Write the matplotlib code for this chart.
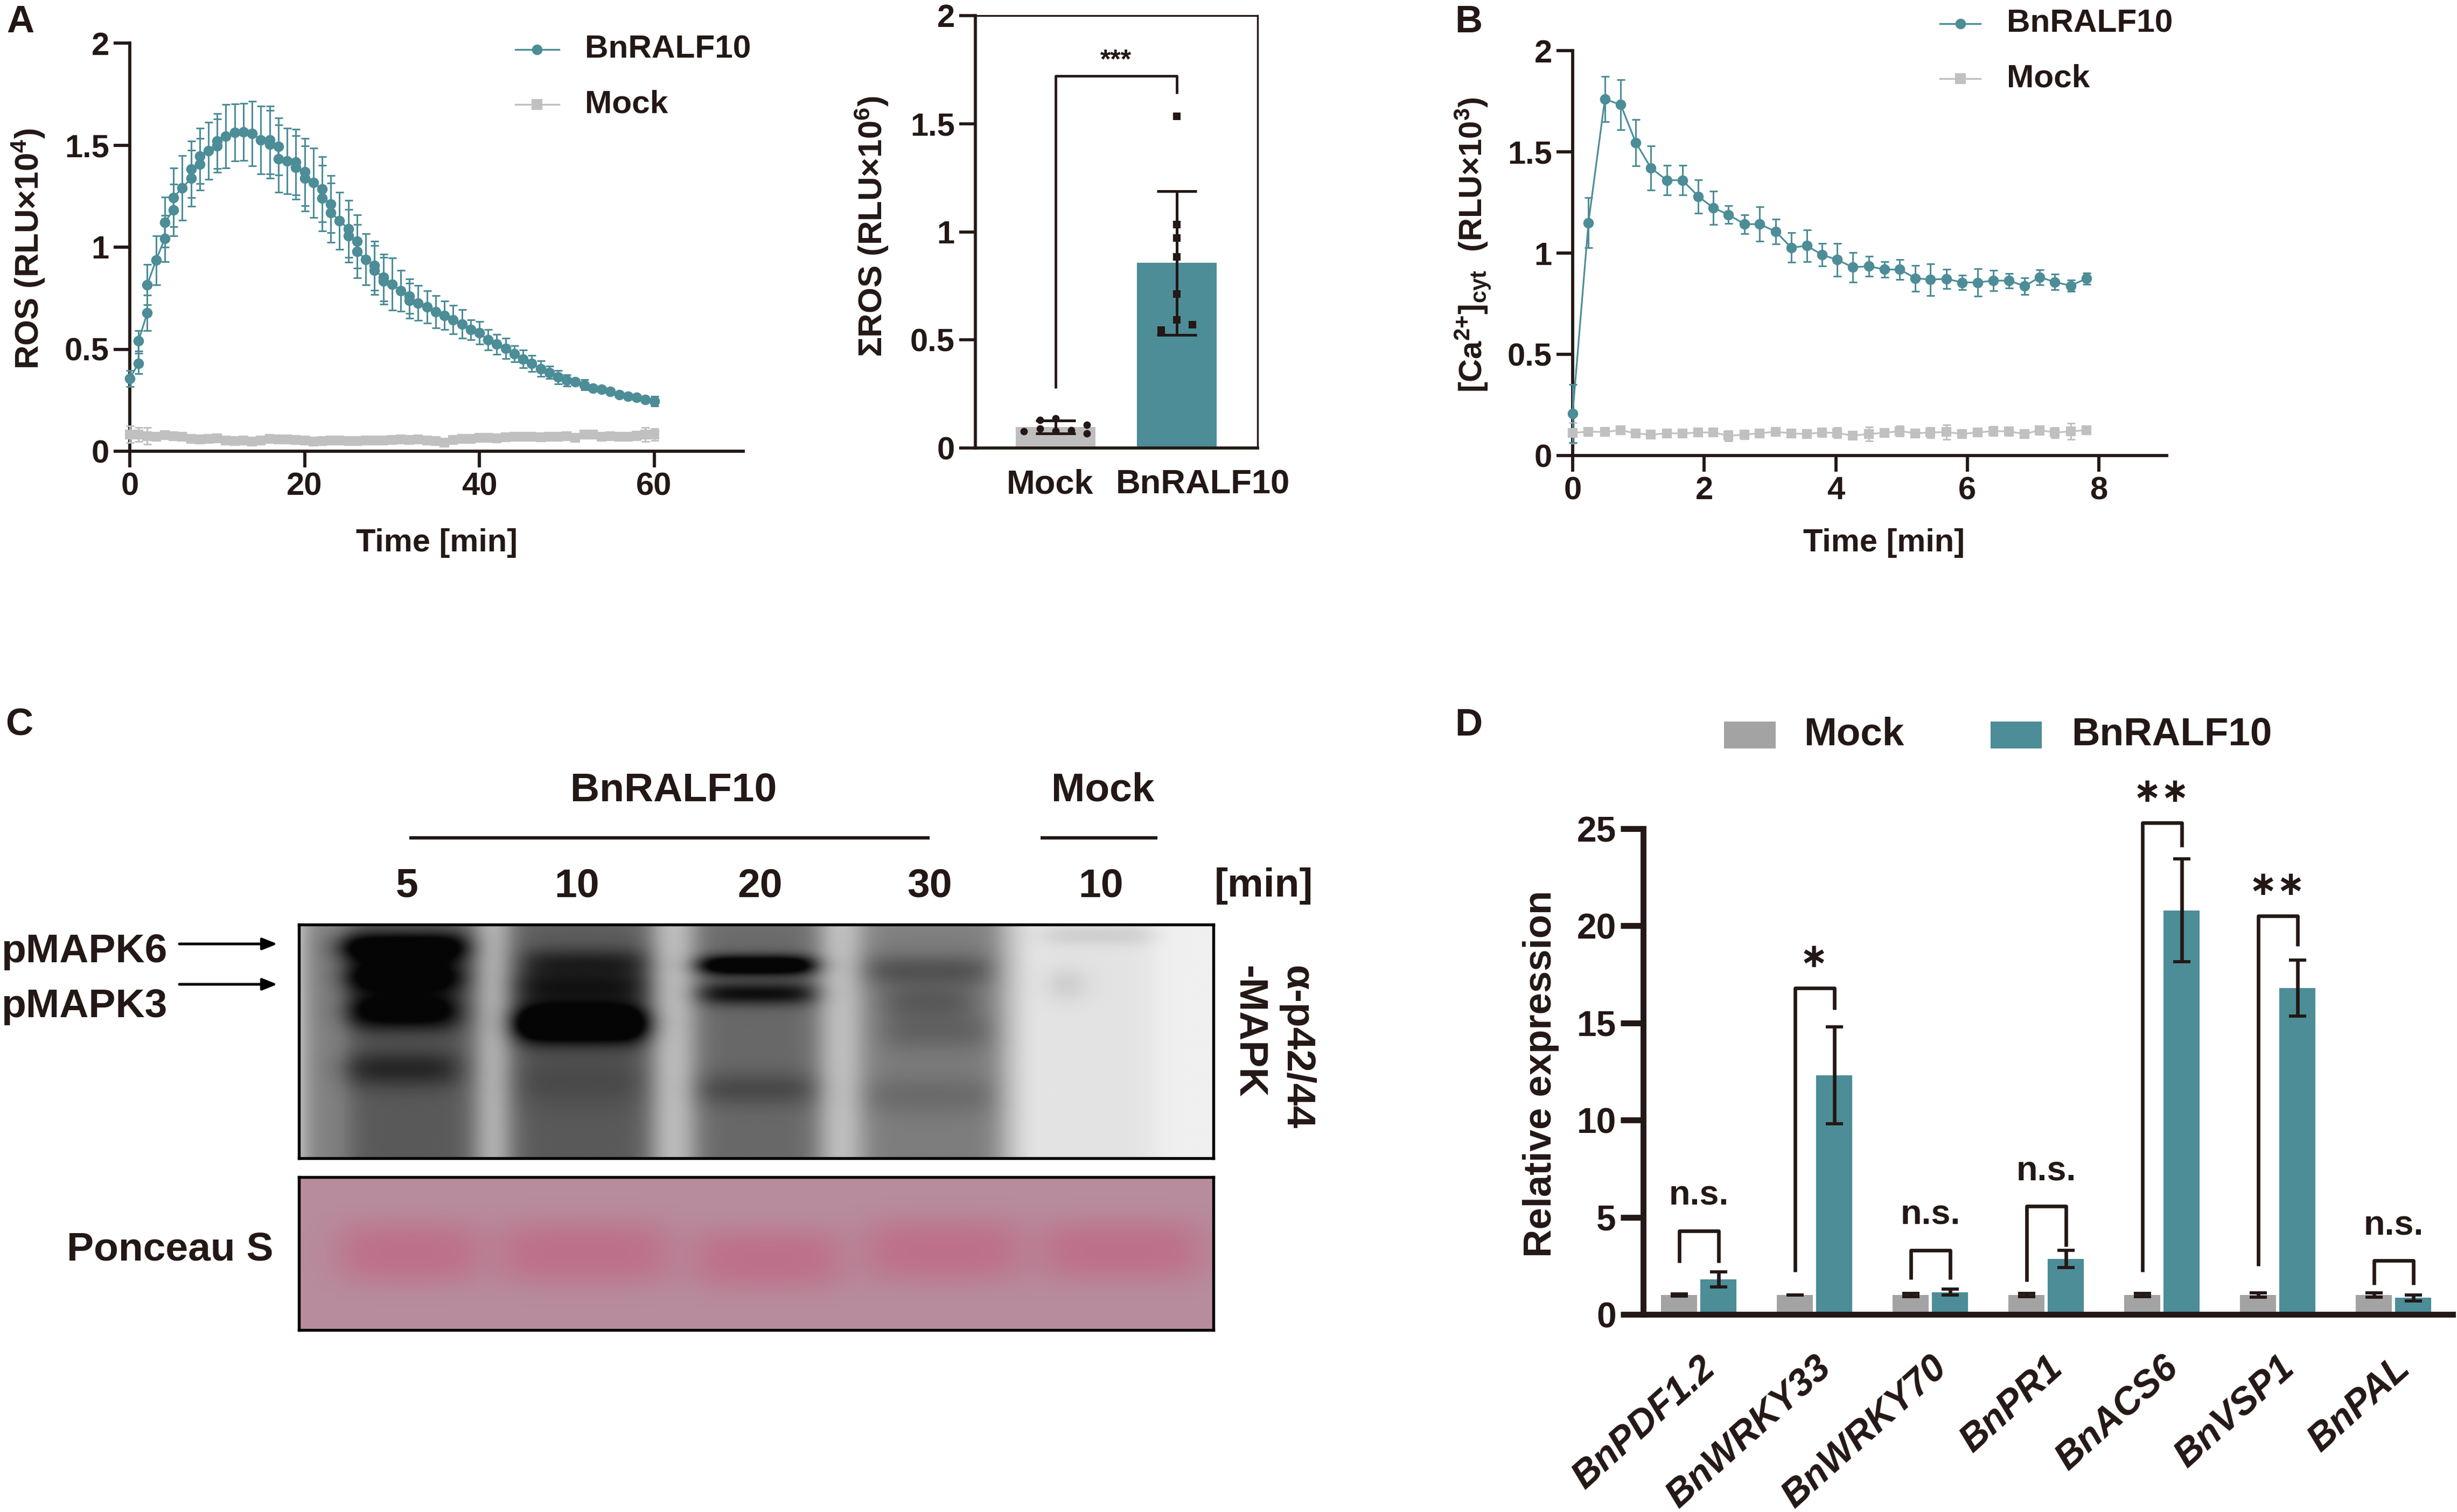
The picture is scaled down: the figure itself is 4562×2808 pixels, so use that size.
#!/usr/bin/env python
""" BnRALF10 figure: ROS burst, calcium, MAPK blot and qPCR panels """

import numpy as np
import matplotlib
matplotlib.use('Agg')
import matplotlib.pyplot as plt

plt.rcParams['font.family'] = ['Liberation Sans', 'DejaVu Sans']
plt.rcParams['font.weight'] = 'bold'
plt.rcParams['mathtext.default'] = 'regular'

INK = '#231815'
TEAL = '#4C8D97'
LGREY = '#C0C0C0'
BARGREY = '#A3A3A3'

# panel A, time course
ros_t = [0, 1, 1, 2, 2, 3, 4, 4, 5, 5, 6, 7, 7, 8, 8, 9, 10, 10, 11, 12, 13, 14, 15, 16, 16, 17, 17, 18,
         19, 19, 20, 20, 21, 22, 22, 23, 23, 24, 25, 25, 26, 26, 27, 28, 28, 29, 29, 30, 31, 32, 32, 33,
         34, 35, 36, 37, 38, 39, 40, 41, 42, 43, 44, 45, 46, 47, 48, 49, 50, 51, 52, 53, 54, 55, 56, 57,
         58, 59, 60]
ros_mean = [.357, .431, .542, .678, .816, .936, 1.042, 1.122, 1.182, 1.244, 1.29, 1.337, 1.382, 1.406,
            1.447, 1.473, 1.497, 1.519, 1.544, 1.562, 1.565, 1.557, 1.525, 1.504, 1.525, 1.493, 1.433,
            1.422, 1.417, 1.39, 1.369, 1.337, 1.316, 1.284, 1.24, 1.212, 1.17, 1.13, 1.09, 1.055, 1.028,
            .98, .94, .91, .887, .852, .834, .819, .786, .76, .738, .726, .707, .683, .665, .644, .624,
            .595, .58, .545, .524, .503, .477, .452, .43, .404, .386, .364, .347, .34, .325, .31, .303,
            .292, .276, .269, .265, .254, .245]
ros_sd = [.04, .05, .05, .088, .099, .12, .113, .123, .126, .143, .158, .137, .139, .127, .135, .14, .13,
          .135, .155, .14, .14, .158, .165, .165, .165, .14, .165, .16, .16, .155, .165, .16, .17, .16,
          .16, .14, .145, .14, .14, .13, .13, .13, .125, .12, .12, .115, .115, .127, .10, .085, .085,
          .086, .08, .08, .07, .07, .07, .05, .056, .05, .048, .05, .04, .044, .04, .038, .03, .033,
          .028, .01, .025, .01, .01, .01, .012, .01, .01, .01, .023]
ros_mock = [.083, .082, .075, .072, .078, .074, .070, .060, .059, .060,
            .063, .054, .051, .052, .048, .052, .060, .059, .058, .055,
            .054, .048, .050, .052, .053, .049, .050, .053, .054, .052,
            .056, .057, .056, .058, .054, .050, .042, .056, .060, .062,
            .066, .066, .064, .068, .070, .070, .072, .068, .072, .070,
            .074, .066, .082, .082, .072, .074, .072, .072, .076, .082, .082]
ros_mock_sd = [.04, .035, .04, .02, .012, .015, .012, .012, .012, .012,
               .01, .012, .012, .012, .015, .012, .012, .012, .015, .015,
               .012, .015, .012, .012, .012, .012, .012, .012, .012, .012,
               .012, .012, .012, .012, .012, .012, .012, .012, .012, .012,
               .012, .012, .012, .012, .012, .012, .012, .012, .012, .012,
               .012, .012, .012, .012, .012, .012, .012, .012, .02, .035, .03]

# panel A, sum bars
sum_mean = [.097, .856]
sum_sd = [.029, .333]
sum_mock_dx = [-.26, -.13, -.13, 0, 0, .13, .26, .26]
sum_mock_pts = [.078, .129, .089, .138, .079, .083, .106, .067]
sum_bn_dx = [0, 0, 0, 0, 0, 0, -.13, .13]
sum_bn_pts = [1.535, 1.033, .971, .885, .713, .594, .546, .57]

# panel B
ca_t = [0, .24, .49, .73, .96, 1.19, 1.43, 1.67, 1.91, 2.14, 2.37, 2.61, 2.84, 3.09, 3.32, 3.56, 3.79,
        4.02, 4.26, 4.5, 4.74, 4.97, 5.21, 5.44, 5.68, 5.92, 6.16, 6.39, 6.63, 6.87, 7.1, 7.33, 7.57, 7.81]
ca_mean = [.207, 1.15, 1.76, 1.733, 1.546, 1.42, 1.36, 1.36, 1.28, 1.223, 1.19, 1.143, 1.143, 1.106,
           1.027, 1.036, .992, .967, .93, .935, .919, .919, .876, .869, .873, .855, .855, .864, .864,
           .837, .881, .857, .839, .874]
ca_sd = [.144, .123, .112, .123, .114, .109, .073, .073, .082, .082, .045, .046, .085, .062, .073, .078,
         .057, .082, .073, .05, .039, .048, .064, .078, .048, .037, .068, .05, .036, .041, .037, .039,
         .028, .028]
ca_mock = [.112, .118, .116, .126, .109, .103, .110, .109, .114, .114, .098, .103, .110, .118, .109, .107,
           .114, .112, .098, .107, .112, .121, .110, .114, .116, .107, .114, .121, .119, .107, .125, .114,
           .119, .126]
ca_mock_sd = [.05, .01, .01, .012, .012, .012, .01, .012, .012, .015, .025, .02, .012, .01, .012, .012,
              .02, .025, .015, .035, .02, .025, .012, .025, .035, .02, .018, .022, .02, .012, .022, .025,
              .04, .02]

# panel D
genes = ['BnPDF1.2', 'BnWRKY33', 'BnWRKY70', 'BnPR1', 'BnACS6', 'BnVSP1', 'BnPAL']
qpcr_mock = [1, 1, 1, 1, 1, 1, 1]
qpcr_mock_err = [.06, 0, .08, .08, .08, .1, .1]
qpcr_bn = [1.8, 12.3, 1.15, 2.85, 20.8, 16.8, .85]
qpcr_bn_err = [.4, 2.5, .15, .45, 2.65, 1.45, .15]
sig_top = [4.3, 16.8, 3.3, 5.57, 25.3, 20.5, 2.77]
sig_left = [2.65, 2.2, 1.8, 1.7, 2.2, 2.5, 1.52]
sig_right = [2.65, 15.7, 1.8, 3.5, 24.07, 18.95, 1.52]
sig_text = ['n.s.', '*', 'n.s.', 'n.s.', '**', '**', 'n.s.']

# panel C, blot texture in crop coordinates: x0, x1, y, sigma, strength
blot_bands = [(395, 540, 600, 26, .52), (400, 535, 672, 28, .44), (405, 530, 755, 32, .44),
              (400, 530, 895, 32, .2), (610, 750, 635, 24, .2), (600, 750, 695, 30, .26),
              (600, 750, 785, 32, .72), (595, 750, 925, 44, .06), (815, 945, 643, 17, .62),
              (815, 945, 712, 20, .36), (810, 950, 945, 30, .12), (1005, 1150, 655, 28, .16),
              (1030, 1130, 730, 32, .13), (1030, 1150, 805, 34, .1), (1005, 1155, 960, 34, .07),
              (1225, 1255, 690, 30, .12), (1215, 1340, 570, 18, .08)]
blot_smears = [(348, 395, .3), (400, 555, .44), (590, 760, .44), (805, 955, .38), (1000, 1165, .30),
               (1205, 1340, .05), (348, 1190, .15)]
pon_bands = [(395, 555, 1340, 80), (585, 775, 1340, 82), (810, 975, 1355, 78), (1010, 1185, 1335, 82),
             (1215, 1395, 1335, 78)]


W, H = 4562, 2808


def px_axes(fig, l, t, r, b):
    return fig.add_axes([l / W, 1 - b / H, (r - l) / W, (b - t) / H])


def style_axis(ax, lw=1.4, ticklen=7.2, size=14.3):
    ax.spines['top'].set_visible(False)
    ax.spines['right'].set_visible(False)
    ax.spines['left'].set_linewidth(lw)
    ax.spines['bottom'].set_linewidth(lw)
    for s in ax.spines.values():
        s.set_color(INK)
    ax.tick_params(length=ticklen, width=lw, color=INK, labelcolor=INK, labelsize=size, pad=2)
    ax.patch.set_alpha(0)


def curve(ax, t, m, sd, color, marker, ms=3.7):
    c = ax.errorbar(t, m, yerr=sd, color=color, marker=marker, ms=ms, lw=.75, elinewidth=.72, capsize=1.8,
                    capthick=.72, zorder=3)
    c.lines[0].set_clip_on(False)
    for part in c.lines[1] + c.lines[2]:
        part.set_clip_on(False)


def bracket(ax, x0, x1, y0, top, y1, lw):
    ax.plot([x0, x0, x1, x1], [y0, top, top, y1], color=INK, lw=lw, clip_on=False, solid_joinstyle='round',
            solid_capstyle='butt')


def smooth_box(x, x0, x1, s):
    return .5 * (np.tanh((x - x0) / s) - np.tanh((x - x1) / s))


def blot_image():
    xx, yy = np.meshgrid(np.arange(348, 1413, 3.0), np.arange(545, 1113, 3.0))
    dark = np.full(xx.shape, .03)
    for x0, x1, s in blot_smears:
        dark += s * smooth_box(xx, x0, x1, 18)
    dark *= .75 + .25 * smooth_box(yy, 500, 1300, 60)
    for x0, x1, yc, sy, s in blot_bands:
        dark += s * smooth_box(xx, x0, x1, 20) * np.exp(-(yy - yc) ** 2 / (2 * sy ** 2))
    return np.clip(.97 - dark, .02, 1)


def ponceau_image():
    xx, yy = np.meshgrid(np.arange(348, 1413, 3.0), np.arange(1158, 1530, 3.0))
    a = np.zeros(xx.shape)
    for x0, x1, yc, sy in pon_bands:
        a += smooth_box(xx, x0, x1, 28) * np.exp(-np.abs((yy - yc) / sy) ** 2.5)
    a = np.clip(a, 0, 1)[..., None]
    base = np.array([183, 141, 157]) / 255
    pink = np.array([190, 112, 138]) / 255
    return base * (1 - a) + pink * a


def main():
    fig = plt.figure(figsize=(W / 300, H / 300), dpi=300)

    ov = fig.add_axes([0, 0, 1, 1])
    ov.set_xlim(0, W)
    ov.set_ylim(H, 0)
    ov.axis('off')
    ov.set_zorder(5)

    def label(x, y, s, size=14.3, **kw):
        kw.setdefault('ha', 'center')
        kw.setdefault('va', 'center')
        ov.text(x, y, s, fontsize=size, color=INK, **kw)

    for x, y, s in [(38, 42, 'A'), (2727, 42, 'B'), (36, 1348, 'C'), (2727, 1348, 'D')]:
        label(x, y, s, size=17)

    # A, curve
    ax = px_axes(fig, 241, 80, 1380, 838)
    style_axis(ax)
    ax.set_xlim(0, 70.2)
    ax.set_ylim(0, 2)
    curve(ax, np.arange(61), ros_mock, ros_mock_sd, LGREY, 's', 3.5)
    curve(ax, ros_t, ros_mean, ros_sd, TEAL, 'o')
    ax.set_xticks([0, 20, 40, 60])
    ax.set_yticks([0, .5, 1, 1.5, 2], ['0', '0.5', '1', '1.5', '2'])
    label(53, 462, 'ROS (RLU×10$^{4}$)', size=14.8, rotation=90)
    label(811, 1008, 'Time [min]')
    for yy, name, col, mk in [(92, 'BnRALF10', TEAL, 'o'), (194, 'Mock', LGREY, 's')]:
        ov.plot([957, 1038], [yy, yy], color=col, lw=.8)
        ov.plot([997], [yy], color=col, marker=mk, ms=3.7)
        label(1086, yy, name, ha='left', size=14.5)

    # A, bars
    ax = px_axes(fig, 1811, 29, 2335, 832)
    style_axis(ax, lw=1.35)
    ax.spines['top'].set_visible(True)
    ax.spines['right'].set_visible(True)
    ax.set_xlim(-.662, 1.667)
    ax.set_ylim(0, 2)
    ax.bar([0, 1], sum_mean, width=.658, color=['#BEBEBE', TEAL], zorder=1)
    ax.errorbar([0, 1], sum_mean, yerr=sum_sd, fmt='none', ecolor=INK, elinewidth=1.2, capsize=8.9,
                capthick=1.2, zorder=3)
    ax.scatter(sum_mock_dx, sum_mock_pts, s=11, color=INK, marker='o', zorder=4, linewidths=0, clip_on=False)
    ax.scatter(np.array(sum_bn_dx) + 1, sum_bn_pts, s=11, color=INK, marker='s', zorder=4, linewidths=0)
    bracket(ax, 0, 1, .276, 1.722, 1.64, 1.15)
    ax.text(.5, 1.79, '***', ha='center', va='center', fontsize=12, color=INK)
    ax.set_xticks([])
    ax.set_yticks([0, .5, 1, 1.5, 2], ['0', '0.5', '1', '1.5', '2'])
    label(1618, 421, 'ΣROS (RLU×10$^{6}$)', size=14.8, rotation=90)
    label(1950, 900, 'Mock', size=15.2)
    label(2233, 900, 'BnRALF10', size=15.2)

    # B
    ax = px_axes(fig, 2920, 94, 4023, 846)
    style_axis(ax)
    ax.set_xlim(0, 9.03)
    ax.set_ylim(0, 2)
    curve(ax, ca_t, ca_mock, ca_mock_sd, LGREY, 's', 3.5)
    curve(ax, ca_t, ca_mean, ca_sd, TEAL, 'o')
    ax.set_xticks([0, 2, 4, 6, 8])
    ax.set_yticks([0, .5, 1, 1.5, 2], ['0', '0.5', '1', '1.5', '2'])
    label(2735, 455, '[Ca$^{2{+}}$]$_{cyt}$  (RLU×10$^{3}$)', rotation=90)
    label(3498, 1008, 'Time [min]')
    for yy, name, col, mk in [(44, 'BnRALF10', TEAL, 'o'), (146, 'Mock', LGREY, 's')]:
        ov.plot([3602, 3677], [yy, yy], color=col, lw=.8)
        ov.plot([3640], [yy], color=col, marker=mk, ms=3.7)
        label(3726, yy, name, ha='left', size=14.5)

    # C
    blot = px_axes(fig, 555, 1717, 2253, 2151)
    blot.imshow(blot_image(), cmap='gray', vmin=0, vmax=1, aspect='auto', interpolation='bicubic')
    pon = px_axes(fig, 555, 2186, 2253, 2470)
    pon.imshow(ponceau_image(), aspect='auto', interpolation='bicubic')
    for a in (blot, pon):
        a.set_xticks([])
        a.set_yticks([])
        for s in a.spines.values():
            s.set_linewidth(1.3)
            s.set_color('black')
    label(1251, 1468, 'BnRALF10', size=18)
    label(2048, 1468, 'Mock', size=18)
    ov.plot([760, 1726], [1556, 1556], color=INK, lw=1.5, solid_capstyle='butt')
    ov.plot([1932, 2149], [1556, 1556], color=INK, lw=1.5, solid_capstyle='butt')
    for x, s in [(756, '5'), (1071, '10'), (1411, '20'), (1726, '30'), (2044, '10'), (2346, '[min]')]:
        label(x, 1646, s, size=18)
    label(2, 1768, 'pMAPK6', size=18, ha='left')
    label(2, 1870, 'pMAPK3', size=18, ha='left')
    for yy in (1753, 1828):
        ov.annotate('', xy=(515, yy), xytext=(333, yy),
                    arrowprops=dict(arrowstyle='-|>,head_length=.55,head_width=.22', color='black', lw=1.2,
                                    shrinkA=0, shrinkB=0))
    label(2407, 1793, 'α-p42/44', size=18, rotation=-90, va='top')
    label(2319, 1793, '-MAPK', size=18, rotation=-90, va='top')
    label(316, 2321, 'Ponceau S', size=18)

    # D
    ax = px_axes(fig, 3051, 1539, 4554, 2441)
    style_axis(ax, lw=2.6, ticklen=10, size=15.8)
    ax.set_xlim(-.481, 6.51)
    ax.set_ylim(0, 25)
    pos = np.arange(len(genes))
    ax.bar(pos - .17, qpcr_mock, width=.312, color=BARGREY, zorder=1)
    ax.bar(pos + .17, qpcr_bn, width=.312, color=TEAL, zorder=1)
    ax.errorbar(pos - .17, qpcr_mock, yerr=qpcr_mock_err, fmt='none', ecolor=INK, elinewidth=1.6, capsize=3.9,
                capthick=1.4, zorder=3)
    ax.errorbar(pos + .17, qpcr_bn, yerr=qpcr_bn_err, fmt='none', ecolor=INK, elinewidth=1.6, capsize=3.9,
                capthick=1.4, zorder=3)
    for i in pos:
        bracket(ax, i - .17, i + .17, sig_left[i], sig_top[i], sig_right[i], 1.6)
        if sig_text[i] == 'n.s.':
            ax.text(i, sig_top[i] + 1.8, 'n.s.', ha='center', va='center', fontsize=15.5, color=INK,
                    clip_on=False)
        else:
            ax.text(i - .005, sig_top[i] + 1.55, sig_text[i].replace('*', '∗'), ha='center', va='center',
                    fontsize=15, color=INK, clip_on=False, family=['DejaVu Sans'])
    ax.set_xticks(pos, genes, rotation=42, ha='right', rotation_mode='anchor', style='italic', fontsize=16.8)
    ax.tick_params(axis='x', length=0, pad=16)
    ax.set_yticks([0, 5, 10, 15, 20, 25])
    label(2861, 1994, 'Relative expression', size=17.4, rotation=90)
    for x0, x1, xt, name, col in [(3201, 3297, 3349, 'Mock', BARGREY), (3696, 3791, 3846, 'BnRALF10', TEAL)]:
        ov.fill_between([x0, x1], [1340, 1340], [1390, 1390], color=col, lw=0)
        label(xt, 1365, name, size=17.5, ha='left')

    ov.set_xlim(0, W)
    ov.set_ylim(H, 0)
    fig.savefig('out.png', dpi=300, facecolor='white')


if __name__ == "__main__":
    main()
